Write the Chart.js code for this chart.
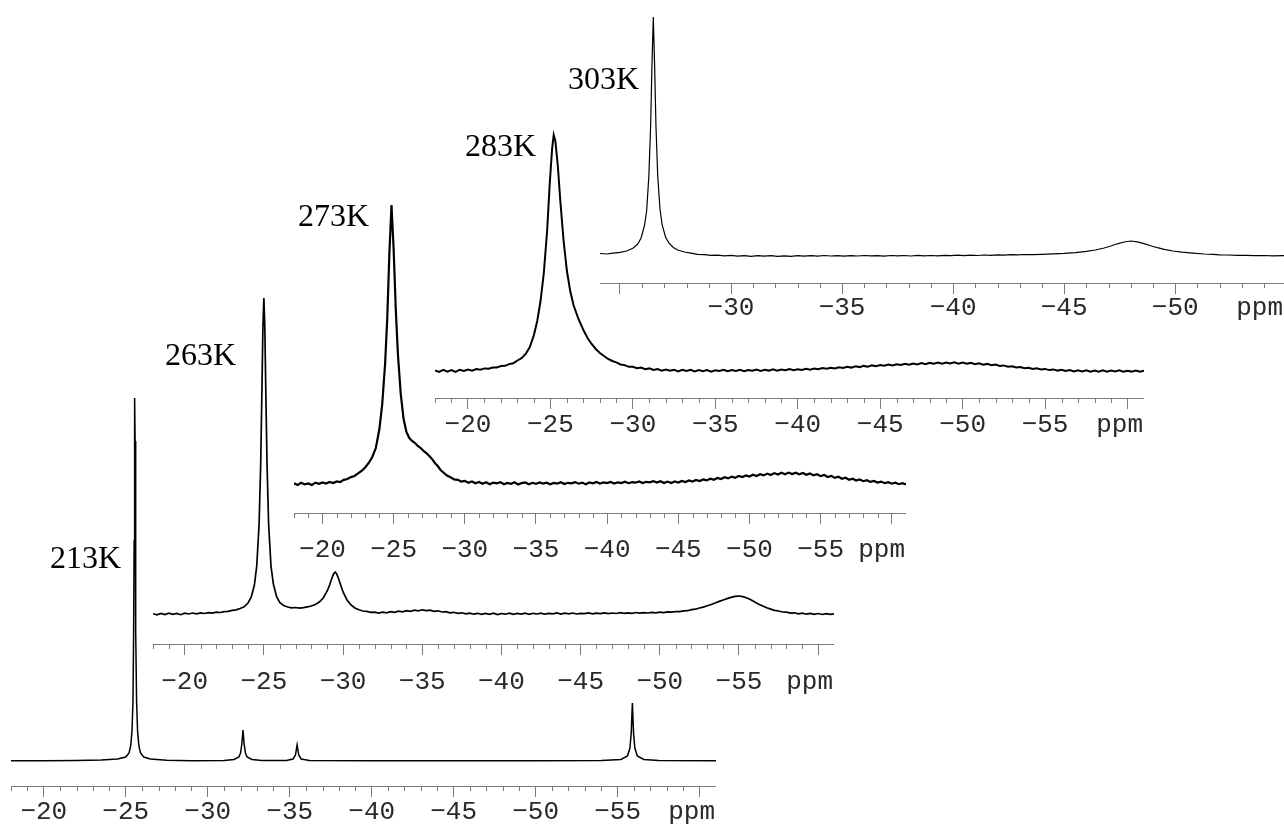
<!DOCTYPE html>
<html><head><meta charset="utf-8">
<script src="https://cdn.jsdelivr.net/npm/chart.js@4.4.0/dist/chart.umd.min.js"></script>
<style>
html,body{margin:0;padding:0;background:#fff;}
#wrap{position:relative;width:1284px;height:827px;overflow:hidden;background:#fff;}
#wrap canvas{position:absolute;}
.tlab{position:absolute;font-family:"Liberation Serif","Times New Roman",serif;font-size:32px;color:#000;line-height:1;white-space:nowrap;}
</style></head><body><div id="wrap"></div>
<script>
// ---------- DATA: [chemical shift (ppm), intensity] ----------
const temps = ['213K', '263K', '273K', '283K', '303K'];

const s213 = [[-18,0.2],[-20,0.3],[-22,0.5],[-23.5,1],[-24.5,2],[-25,4],[-25.2,8],[-25.3,15],[-25.38,30],[-25.44,60],[-25.48,130],[-25.51,220],[-25.53,320],[-25.55,363],[-25.57,320],[-25.59,220],[-25.62,130],[-25.66,60],[-25.72,30],[-25.8,15],[-25.9,8],[-26.1,4],[-26.5,2],[-27.5,0.8],[-29,0.3],[-31,0.5],[-31.6,1.5],[-31.9,4],[-32.0,8],[-32.08,17],[-32.15,31],[-32.22,17],[-32.3,8],[-32.4,4],[-32.7,1.5],[-33.3,0.5],[-34.8,0.5],[-35.2,2],[-35.35,6],[-35.45,16],[-35.55,6],[-35.7,2],[-36.2,0.5],[-40,0.3],[-45,0.2],[-50,0.3],[-54,0.5],[-55.2,1.5],[-55.6,5],[-55.75,13],[-55.83,28],[-55.9,58],[-55.97,28],[-56.05,13],[-56.2,5],[-56.6,1.5],[-57.5,0.5],[-61,0.2]];

const s263 = [[-18,0.3],[-18.25,-0.8],[-18.5,0.6],[-18.75,-0.5],[-19,0.9],[-19.25,-0.3],[-19.5,0.5],[-19.75,-0.7],[-20,0.8],[-20.25,0],[-20.5,1],[-20.75,0.2],[-21,1.1],[-21.25,0.5],[-21.5,1.4],[-21.75,0.9],[-22,1.8],[-22.25,1.5],[-22.5,2.4],[-22.75,2.6],[-23,3.6],[-23.25,4.2],[-23.5,5.5],[-23.75,7.1],[-24,11],[-24.2,16.9],[-24.4,28.7],[-24.55,48],[-24.7,90],[-24.8,150],[-24.88,226],[-24.94,287],[-25,316],[-25.06,287],[-25.12,226],[-25.2,150],[-25.3,90],[-25.45,48],[-25.6,30],[-25.8,17.5],[-26,11.5],[-26.25,8.5],[-26.5,7],[-26.75,6.2],[-27,6.5],[-27.25,5.8],[-27.5,6.4],[-27.75,7.2],[-28,8],[-28.25,9.5],[-28.5,12],[-28.75,16],[-29,23],[-29.15,29],[-29.3,36],[-29.4,40],[-29.5,42],[-29.6,40],[-29.7,36],[-29.85,29],[-30,22],[-30.25,14],[-30.5,9],[-30.75,6],[-31,4.2],[-31.25,3],[-31.5,2.6],[-31.75,1.6],[-32,1.9],[-32.25,0.9],[-32.5,1.8],[-32.75,1.2],[-33,2.3],[-33.25,1.6],[-33.5,2.8],[-33.75,2.2],[-34,3.3],[-34.25,2.6],[-34.5,3.8],[-34.75,3.2],[-35,4.2],[-35.25,3.3],[-35.5,3.9],[-35.75,2.7],[-36,3.2],[-36.25,2],[-36.5,2.4],[-36.75,1.2],[-37,1.7],[-37.25,0.6],[-37.5,1.2],[-37.75,0.1],[-38,0.9],[-38.25,-0.2],[-38.5,0.7],[-38.75,-0.4],[-39,0.6],[-39.25,-0.3],[-39.5,0.8],[-39.75,-0.5],[-40,0.5],[-40.25,-0.2],[-40.5,0.9],[-40.75,-0.4],[-41,0.6],[-41.25,-0.1],[-41.5,0.8],[-41.75,-0.3],[-42,0.7],[-42.25,0],[-42.5,0.9],[-42.75,-0.2],[-43,0.6],[-43.25,0.1],[-43.5,1],[-43.75,-0.1],[-44,0.8],[-44.25,0.2],[-44.5,1],[-44.75,0],[-45,0.7],[-45.25,0.3],[-45.5,1.1],[-45.75,0.1],[-46,0.9],[-46.25,0.4],[-46.5,1.2],[-46.75,0.3],[-47,1],[-47.25,0.5],[-47.5,1.3],[-47.75,0.6],[-48,1.2],[-48.25,0.7],[-48.5,1.5],[-48.75,0.9],[-49,1.4],[-49.25,1],[-49.5,1.7],[-49.75,1.2],[-50,1.9],[-50.25,1.4],[-50.5,2.1],[-50.75,1.8],[-51,2.5],[-51.25,2.4],[-51.5,3.2],[-51.75,3.3],[-52,4.3],[-52.25,4.8],[-52.5,6],[-52.75,6.9],[-53,8.2],[-53.25,9.5],[-53.5,11],[-53.75,12.6],[-54,14],[-54.25,15.4],[-54.5,16.6],[-54.75,17.6],[-55,18],[-55.25,17.4],[-55.5,16],[-55.75,14.2],[-56,12],[-56.25,9.8],[-56.5,7.9],[-56.75,6.2],[-57,4.9],[-57.25,3.6],[-57.5,3],[-57.75,2],[-58,1.8],[-58.25,0.9],[-58.5,1.2],[-58.75,0.2],[-59,0.9],[-59.25,-0.2],[-59.5,0.6],[-59.75,-0.4],[-60,0.5],[-60.25,-0.5],[-60.5,0.4],[-60.75,-0.3],[-61,0.2]];

const s273 = [[-18,0.8],[-18.25,-0.9],[-18.5,1.2],[-18.75,-0.4],[-19,0.6],[-19.25,-1.1],[-19.5,1.4],[-19.75,0.2],[-20,1.6],[-20.25,0.4],[-20.5,2.1],[-20.75,1],[-21,2.6],[-21.25,2],[-21.5,4.1],[-21.75,5],[-22,6.9],[-22.25,8],[-22.5,10.6],[-22.75,13],[-23,16.5],[-23.25,21],[-23.5,27],[-23.75,36],[-24,55],[-24.2,80],[-24.4,120],[-24.55,165],[-24.7,230],[-24.85,279],[-25,235],[-25.15,175],[-25.3,130],[-25.5,90],[-25.7,65],[-25.9,52],[-26.1,46],[-26.3,43],[-26.5,41],[-26.7,38],[-26.9,36],[-27.1,33],[-27.3,31],[-27.5,28],[-27.7,25],[-27.9,21],[-28.1,18],[-28.3,14],[-28.5,11.5],[-28.75,8.5],[-29,6.8],[-29.25,4.6],[-29.5,4.2],[-29.75,2.5],[-30,3.1],[-30.25,1.2],[-30.5,2.6],[-30.75,0.8],[-31,2],[-31.25,0.3],[-31.5,1.8],[-31.75,-0.2],[-32,1.4],[-32.25,0.6],[-32.5,1.9],[-32.75,-0.3],[-33,1.1],[-33.25,0.2],[-33.5,1.7],[-33.75,-0.5],[-34,0.9],[-34.25,1.5],[-34.5,-0.2],[-34.75,1.2],[-35,0.1],[-35.25,1.6],[-35.5,0.4],[-35.75,1.3],[-36,-0.3],[-36.25,1],[-36.5,0.5],[-36.75,1.8],[-37,0],[-37.25,1.2],[-37.5,0.6],[-37.75,1.9],[-38,0.3],[-38.25,1.4],[-38.5,-0.2],[-38.75,1.5],[-39,0.7],[-39.25,2],[-39.5,0.4],[-39.75,1.6],[-40,0.9],[-40.25,2.1],[-40.5,0.5],[-40.75,1.7],[-41,1],[-41.25,2.3],[-41.5,0.8],[-41.75,1.9],[-42,1.3],[-42.25,2.6],[-42.5,1],[-42.75,2.2],[-43,1.6],[-43.25,2.9],[-43.5,1.4],[-43.75,2.8],[-44,1],[-44.25,2.4],[-44.5,0.9],[-44.75,2.6],[-45,1.5],[-45.25,3],[-45.5,1.9],[-45.75,3.5],[-46,2.4],[-46.25,4.1],[-46.5,2.9],[-46.75,4.6],[-47,3.6],[-47.25,5.3],[-47.5,4.2],[-47.75,6],[-48,4.9],[-48.25,6.7],[-48.5,5.6],[-48.75,7.4],[-49,6.2],[-49.25,8],[-49.5,6.9],[-49.75,8.6],[-50,7.5],[-50.25,9.2],[-50.5,8],[-50.75,9.8],[-51,8.6],[-51.25,10.4],[-51.5,9],[-51.75,10.9],[-52,9.5],[-52.25,11.2],[-52.5,9.8],[-52.75,11.4],[-53,10],[-53.25,11.3],[-53.5,9.7],[-53.75,11],[-54,9.2],[-54.25,10.5],[-54.5,8.6],[-54.75,9.8],[-55,7.9],[-55.25,9],[-55.5,7],[-55.75,8.1],[-56,6.1],[-56.25,7.2],[-56.5,5.2],[-56.75,6.2],[-57,4.3],[-57.25,5.3],[-57.5,3.5],[-57.75,4.5],[-58,2.8],[-58.25,3.8],[-58.5,2.1],[-58.75,3],[-59,1.4],[-59.25,2.4],[-59.5,0.8],[-59.75,1.8],[-60,0.3],[-60.25,1.3],[-60.5,-0.2],[-60.75,0.9],[-61,-0.4]];

const s283 = [[-18,0.5],[-18.25,-1],[-18.5,1.1],[-18.75,-0.6],[-19,0.9],[-19.25,-0.8],[-19.5,1.3],[-19.75,0.1],[-20,1.5],[-20.25,0.4],[-20.5,2],[-20.75,1.3],[-21,2.6],[-21.25,2.2],[-21.5,3.5],[-21.75,3.6],[-22,4.9],[-22.25,5.2],[-22.5,6.9],[-22.75,7.8],[-23,10.5],[-23.25,12.8],[-23.5,17],[-23.75,24],[-24,36],[-24.2,50],[-24.4,70],[-24.6,98],[-24.8,140],[-24.95,185],[-25.1,222],[-25.2,236],[-25.3,230],[-25.45,205],[-25.6,170],[-25.8,130],[-26,100],[-26.2,80],[-26.4,66],[-26.7,52],[-27,41],[-27.25,33],[-27.5,27],[-27.75,22],[-28,18],[-28.25,15],[-28.5,12],[-28.75,10],[-29,8.6],[-29.25,6.5],[-29.5,5.9],[-29.75,4.2],[-30,4.3],[-30.25,2.8],[-30.5,3.4],[-30.75,1.8],[-31,2.6],[-31.25,1],[-31.5,2],[-31.75,0.4],[-32,1.5],[-32.25,0.2],[-32.5,1.3],[-32.75,-0.4],[-33,1.1],[-33.25,0],[-33.5,1.2],[-33.75,-0.5],[-34,0.9],[-34.25,-0.2],[-34.5,1],[-34.75,-0.6],[-35,0.8],[-35.25,0.1],[-35.5,1.2],[-35.75,-0.3],[-36,0.9],[-36.25,0],[-36.5,1.1],[-36.75,-0.2],[-37,1],[-37.25,0.3],[-37.5,1.4],[-37.75,0.1],[-38,1.2],[-38.25,0.4],[-38.5,1.6],[-38.75,0.3],[-39,1.4],[-39.25,0.7],[-39.5,1.9],[-39.75,0.8],[-40,1.8],[-40.25,1.1],[-40.5,2.3],[-40.75,1.3],[-41,2.5],[-41.25,1.8],[-41.5,3],[-41.75,2.2],[-42,3.3],[-42.25,2.5],[-42.5,3.8],[-42.75,3],[-43,4.2],[-43.25,3.4],[-43.5,4.7],[-43.75,3.9],[-44,5.1],[-44.25,4.3],[-44.5,5.6],[-44.75,4.8],[-45,6],[-45.25,5.2],[-45.5,6.5],[-45.75,5.6],[-46,6.8],[-46.25,6],[-46.5,7.2],[-46.75,6.3],[-47,7.5],[-47.25,6.6],[-47.5,7.9],[-47.75,6.9],[-48,8.1],[-48.25,7.2],[-48.5,8.4],[-48.75,7.4],[-49,8.5],[-49.25,7.5],[-49.5,8.6],[-49.75,7.4],[-50,8.4],[-50.25,7.2],[-50.5,8.1],[-50.75,6.8],[-51,7.7],[-51.25,6.3],[-51.5,7.1],[-51.75,5.7],[-52,6.4],[-52.25,5],[-52.5,5.6],[-52.75,4.3],[-53,4.8],[-53.25,3.5],[-53.5,4],[-53.75,2.8],[-54,3.3],[-54.25,2.1],[-54.5,2.7],[-54.75,1.5],[-55,2.1],[-55.25,0.9],[-55.5,1.6],[-55.75,0.4],[-56,1.2],[-56.25,0],[-56.5,0.9],[-56.75,-0.4],[-57,0.7],[-57.25,-0.5],[-57.5,0.6],[-57.75,-0.7],[-58,0.5],[-58.25,-0.6],[-58.5,0.6],[-58.75,-0.8],[-59,0.4],[-59.25,-0.5],[-59.5,0.7],[-59.75,-0.7],[-60,0.3],[-60.25,-0.6],[-60.5,0.5],[-60.75,-0.8],[-61,0.2]];

const s303 = [[-24.1,2.5],[-24.4,2],[-24.7,2.8],[-25,3.6],[-25.3,5],[-25.6,8],[-25.8,12],[-25.95,18],[-26.1,30],[-26.2,45],[-26.3,80],[-26.38,130],[-26.44,190],[-26.5,239],[-26.56,190],[-26.62,130],[-26.7,80],[-26.8,47],[-26.9,31],[-27.05,19],[-27.2,13],[-27.4,8.5],[-27.6,6],[-27.9,4],[-28.2,2.8],[-28.5,1.6],[-28.8,1.4],[-29.1,0.6],[-29.4,0.9],[-29.7,0.2],[-30,0.6],[-30.3,-0.1],[-30.6,0.4],[-30.9,-0.3],[-31.2,0.3],[-31.5,-0.2],[-31.8,0.4],[-32.1,-0.3],[-32.4,0.2],[-32.7,-0.4],[-33,0.3],[-33.3,-0.2],[-33.6,0.4],[-33.9,-0.1],[-34.2,0.5],[-34.5,0],[-34.8,0.3],[-35.1,-0.2],[-35.4,0.4],[-35.7,0],[-36,0.5],[-36.3,0.1],[-36.6,0.4],[-36.9,-0.1],[-37.2,0.5],[-37.5,0.2],[-37.8,0.5],[-38.1,0],[-38.4,0.6],[-38.7,0.2],[-39,0.5],[-39.3,0.1],[-39.6,0.6],[-39.9,0.3],[-40.2,0.8],[-40.5,0.4],[-40.8,0.9],[-41.1,0.5],[-41.4,1],[-41.7,0.7],[-42,1.1],[-42.3,0.9],[-42.6,1.3],[-42.9,1.1],[-43.2,1.5],[-43.6,1.4],[-44,1.7],[-44.5,2.1],[-45,2.6],[-45.5,3.4],[-46,4.6],[-46.4,6],[-46.8,8],[-47.1,10],[-47.4,12.2],[-47.7,14],[-48,15],[-48.3,14.2],[-48.6,12.4],[-48.9,10.3],[-49.2,8.3],[-49.5,6.6],[-49.9,5],[-50.3,3.8],[-50.8,2.8],[-51.3,2],[-51.7,1.6],[-52,1.1],[-52.4,1],[-52.8,0.6],[-53.2,0.7],[-53.6,0.3],[-54,0.5],[-54.4,0.1],[-54.9,0.3]];

// axis ranges (ppm) and labelled tick span per spectrum
const axisMin = [-61, -61, -61, -61, -54.9];
const axisMax = [-18, -18, -18, -18, -24.1];
const labelMin = [-55, -55, -55, -55, -50];
const labelMax = [-20, -20, -20, -20, -30];
const spectra = [s213, s263, s273, s283, s303];

// ---------- LAYOUT (page pixels) ----------
const geom = [
  {left: 11,  right: 716,  axisY: 786, baseY: 761, top: 380, lw: 1.5, pad: 0,  lab: [50, 557]},
  {left: 153, right: 834,  axisY: 644, baseY: 614, top: 280, lw: 1.7, pad: 12, lab: [165, 354]},
  {left: 294, right: 906,  axisY: 513, baseY: 484, top: 190, lw: 2.2, pad: 11, lab: [298, 215]},
  {left: 435, right: 1144, axisY: 398, baseY: 371, top: 115, lw: 2.0, pad: 1,  lab: [465, 145]},
  {left: 600, right: 1284, axisY: 283, baseY: 256, top: 4,   lw: 1.2, pad: -1, lab: [568, 78]}
];
const SCALE_H = 62, TICK_LEN = 11, MINOR_LEN = 5, FONT_SIZE = 26;
const MONO = '"Liberation Mono","Courier New",monospace';
const AXIS_COLOR = '#7a7a7a', LABEL_COLOR = '#2a2a2a';

const minorTicks = {
  id: 'minorTicks',
  afterDraw(chart) {
    const s = chart.scales.x, ctx = chart.ctx, pad = chart.options.scales.x.ticks.padding;
    ctx.save();
    ctx.strokeStyle = AXIS_COLOR; ctx.lineWidth = 1;
    for (let v = Math.ceil(s.min); v <= Math.floor(s.max); v++) {
      if (v % 5 === 0) continue;
      const x = Math.round(s.getPixelForValue(v)) + 0.5;
      ctx.beginPath(); ctx.moveTo(x, s.top); ctx.lineTo(x, s.top + MINOR_LEN); ctx.stroke();
    }
    ctx.font = FONT_SIZE + 'px ' + MONO;
    ctx.fillStyle = LABEL_COLOR;
    ctx.textAlign = 'right'; ctx.textBaseline = 'middle';
    ctx.fillText('ppm', s.right - 1, s.top + TICK_LEN + pad + FONT_SIZE * 1.2 / 2);
    ctx.restore();
  }
};

const wrap = document.getElementById('wrap');
spectra.forEach((data, i) => {
  const g = geom[i];
  const c = document.createElement('canvas');
  const w = g.right - g.left, h = g.axisY - g.top + SCALE_H;
  c.width = w; c.height = h;
  c.style.left = g.left + 'px'; c.style.top = g.top + 'px';
  c.style.width = w + 'px'; c.style.height = h + 'px';
  wrap.appendChild(c);
  new Chart(c, {
    type: 'line',
    data: { datasets: [{
      label: temps[i],
      data: data.map(p => ({x: p[0], y: p[1]})),
      borderColor: '#000', borderWidth: g.lw, pointRadius: 0, tension: 0, fill: false
    }]},
    options: {
      responsive: false, animation: false, devicePixelRatio: 1,
      layout: { padding: 0 },
      plugins: { legend: {display: false}, tooltip: {enabled: false} },
      scales: {
        x: {
          type: 'linear', reverse: true, min: axisMin[i], max: axisMax[i], position: 'bottom',
          afterFit: s => { s.height = SCALE_H; s.paddingLeft = 0; s.paddingRight = 0; },
          grid: { display: true, drawOnChartArea: false, drawTicks: true, tickLength: TICK_LEN, tickColor: AXIS_COLOR, tickWidth: 1 },
          border: { display: true, color: AXIS_COLOR, width: 1 },
          ticks: {
            stepSize: 5, includeBounds: false, autoSkip: false, maxRotation: 0, padding: g.pad,
            color: LABEL_COLOR, font: { family: MONO, size: FONT_SIZE },
            callback: v => (v <= labelMax[i] && v >= labelMin[i]) ? '\u2212' + Math.abs(v) : ''
          }
        },
        y: { display: false, min: -(g.axisY - g.baseY), max: g.baseY - g.top }
      }
    },
    plugins: [minorTicks]
  });
  const d = document.createElement('div');
  d.className = 'tlab';
  d.textContent = temps[i];
  d.style.left = g.lab[0] + 'px';
  d.style.top = (g.lab[1] - 16) + 'px';
  wrap.appendChild(d);
});
</script></body></html>
